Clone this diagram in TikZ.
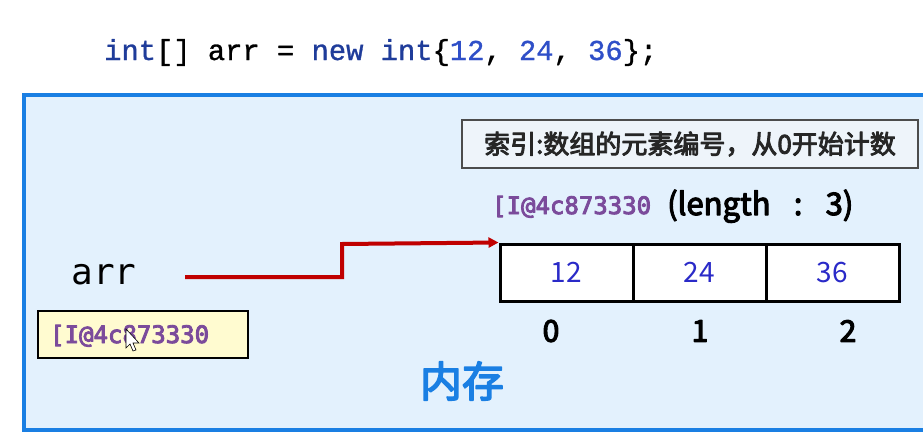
\documentclass[tikz,border=0pt]{standalone}
\usepackage{fontspec}
\setmainfont{Liberation Sans}
\newfontfamily\cjk{Noto Sans CJK SC}
\newfontfamily\monof{Liberation Mono}
\newfontfamily\dejamono{DejaVu Sans Mono}
\newfontfamily\plainmono{DejaVu Sans Mono}
\newcommand\strokebf[2]{\special{pdf:literal direct q 2 Tr #1 w 1 j}#2\special{pdf:literal direct Q}}
\usetikzlibrary{arrows.meta}
\definecolor{kw}{HTML}{1F3C9A}
\definecolor{num}{HTML}{2F4FC8}
\definecolor{memblue}{HTML}{1A7FE3}
\definecolor{memfill}{HTML}{E3F1FD}
\definecolor{addr}{HTML}{7B4B9B}
\definecolor{valblue}{HTML}{2A2AC8}
\definecolor{arrred}{HTML}{C00000}
\definecolor{notefill}{HTML}{EEF4FA}
\definecolor{yel}{HTML}{FFFBD0}
\tikzset{
  cell/.style={draw=black, line width=3pt, fill=white, minimum width=133pt, minimum height=57pt, inner sep=0pt, font=\cjk\fontsize{28}{28}\selectfont, text=valblue},
  idx/.style={font=\cjk\fontsize{30}{30}\selectfont, text=black},
  addrtxt/.style={font=\dejamono\fontsize{24}{24}\selectfont, text=addr}
}
\begin{document}
\begin{tikzpicture}[x=1pt,y=-1pt]
\useasboundingbox (0,0) rectangle (923,447);
\fill[white] (0,0) rectangle (923,447);
% code line
\node[anchor=base west, inner sep=0pt, font=\monof\fontsize{28.8}{28.8}\selectfont] (code) at (104,60)
  {\strokebf{0.3}{\textcolor{kw}{int}[] arr = \textcolor{kw}{new} \textcolor{kw}{int}\{\textcolor{num}{12}, \textcolor{num}{24}, \textcolor{num}{36}\};}};
% memory box
\draw[memblue, line width=4pt, fill=memfill] (24,95) rectangle (930,430);
% note box
\node[draw=black!70, line width=1.2pt, fill=notefill, minimum width=456pt, minimum height=48pt, inner sep=0pt,
  font=\cjk\fontsize{26}{26}\selectfont, text=black!85] (note) at (690,144) {\strokebf{0.9}{索引:数组的元素编号，从0开始计数}};
% address + length
\node[addrtxt, anchor=base west, inner sep=0pt] (addr1) at (492,214) {\strokebf{0.9}{[I@4c873330}};
\node[anchor=base west, inner sep=0pt, font=\cjk\fontsize{31}{31}\selectfont] (len) at (667,215) {\strokebf{1.1}{(length\hspace{0.75em}:\hspace{0.75em}3)}};
% cells
\node[cell] (c0) at (566.5,272.5) {12};
\node[cell] (c1) at (699.5,272.5) {24};
\node[cell] (c2) at (832.5,272.5) {36};
\node[idx] (i0) at (551,331) {\strokebf{1.2}{0}};
\node[idx] (i1) at (700,331) {\strokebf{1.2}{1}};
\node[idx] (i2) at (848,331) {\strokebf{1.2}{2}};
% arr
\node[font=\plainmono\fontsize{36}{36}\selectfont] (arr) at (104,275) {arr};
\coordinate (s) at (185,277);
\draw[arrred, line width=4pt, -{Triangle[length=10pt,width=10pt]}] (s) -- (342,277) -- (342,244) -- (c0.north west);
% yellow box
\node[draw=black, line width=2pt, fill=yel, minimum width=210pt, minimum height=47pt, inner sep=0pt] (ybox) at (143,334.5) {};
\node[addrtxt, anchor=base west, inner sep=0pt] (addr2) at (50,343) {\strokebf{0.9}{[I@4c873330}};
% cursor
\draw[black, fill=white, line width=0.6pt] (126,329) -- (126,348) -- (130,344) -- (133,351) -- (136,350) -- (133,343) -- (139,343) -- cycle;
% memory label
\node[font=\cjk\fontsize{42}{42}\selectfont, text=memblue] (mem) at (462,381) {\strokebf{1.6}{内存}};
\end{tikzpicture}
\end{document}
